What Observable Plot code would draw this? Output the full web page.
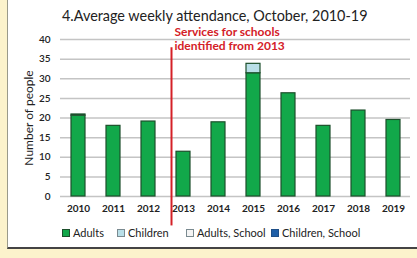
<!DOCTYPE html>
<html><head><meta charset="utf-8">
<script src="https://cdn.jsdelivr.net/npm/d3@7"></script>
<script src="https://cdn.jsdelivr.net/npm/@observablehq/plot@0.6"></script>
<style>
body{margin:0;padding:0;}
#page{position:relative;width:417px;height:258px;background:#fcf3cc;overflow:hidden;font-family:Lato,sans-serif;}
#panel{position:absolute;left:7px;top:-2px;width:420px;height:249px;background:#fff;border-left:1px solid #9a9a8a;border-bottom:2px solid #444;}
#title{position:absolute;left:62px;top:7px;font-size:14.4px;color:#222;white-space:nowrap;}
#chart{position:absolute;left:0;top:0;}
#legend{position:absolute;left:61px;top:226px;font-size:11px;color:#222;white-space:nowrap;}
#legend span.item{position:absolute;top:0;}
#legend i{display:inline-block;width:6px;height:6px;margin-right:3px;vertical-align:0px;border:1px solid #333;}
</style></head>
<body>
<div id="page"><div id="panel"></div>
<div id="title">4.Average weekly attendance, October, 2010-19</div>
<div id="chart"></div>
<div id="legend"></div>
</div>
<script>
const years = ["2010","2011","2012","2013","2014","2015","2016","2017","2018","2019"];
const adults = [20.6, 18.0, 19.1, 11.4, 18.9, 31.4, 26.3, 18.0, 21.9, 19.5];
const children = [0.3, 0, 0, 0, 0, 2.4, 0, 0, 0, 0];
const adultsSchool = [0, 0, 0, 0, 0, 0, 0, 0, 0, 0];
const childrenSchool = [0, 0, 0, 0, 0, 0, 0, 0, 0, 0];
const seriesNames = ["Adults", "Children", "Adults, School", "Children, School"];
const seriesColors = ["#12a84a", "#b9dfe8", "#f4f4f4", "#1f5fa8"];
const yTicks = [0, 5, 10, 15, 20, 25, 30, 35, 40];
const noteLines = ["Services for schools", "identified from 2013"];
const noteYear = "2013";
const noteTop = 37.9;

const allSeries = [adults, children, adultsSchool, childrenSchool];
const rows = [];
years.forEach((yr, i) => allSeries.forEach((s, j) => rows.push({year: yr, series: seriesNames[j], value: s[i]})));

const chart = Plot.plot({
  width: 417, height: 258,
  marginLeft: 60, marginRight: 7, marginTop: 39, marginBottom: 62,
  style: {fontFamily: "Lato, sans-serif", fontSize: "10px", color: "#222", background: "transparent"},
  x: {domain: years, paddingInner: 0.6, paddingOuter: 0.3, label: null, tickSize: 0, tickPadding: 8},
  y: {domain: [0, 40], ticks: yTicks, label: "Number of people", labelAnchor: "center", labelArrow: "none", tickSize: 0, tickPadding: 10, labelOffset: 36},
  color: {domain: seriesNames, range: seriesColors},
  marks: [
    Plot.gridY(yTicks, {stroke: "#c4c4c4", strokeOpacity: 1, strokeWidth: 1.5}),
    Plot.barY(rows.filter(d => d.value > 0), {x: "year", y: "value", fill: "series", stroke: "#1d4f2c", strokeWidth: 1.2, order: seriesNames}),
    Plot.ruleX([noteYear], {x: d => d, dx: -12, y1: -7.5, y2: noteTop, stroke: "#d42027", strokeWidth: 2}),
    Plot.text([noteLines.join("\n")], {x: () => noteYear, y: 40.3, dx: -9, text: d => d, textAnchor: "start", lineAnchor: "middle", lineHeight: 1.15, fill: "#d42027", fontWeight: "bold", fontSize: 12})
  ]
});
chart.querySelectorAll("[aria-label='x-axis tick label'] text").forEach(t => t.setAttribute("font-weight", "bold"));
chart.querySelectorAll("[aria-label='y-axis tick label'] text").forEach(t => t.setAttribute("font-weight", "600"));
const yl = chart.querySelector("[aria-label='y-axis label']");
if (yl) { yl.setAttribute("font-size", "12"); yl.setAttribute("fill", "#222"); }
document.getElementById("chart").appendChild(chart);

const legendX = [1, 56, 125, 210];
const legend = document.getElementById("legend");
seriesNames.forEach((n, i) => {
  const s = document.createElement("span");
  s.className = "item";
  s.style.left = legendX[i] + "px";
  const border = i === 0 ? "#1d4f2c" : (i === 3 ? "#1f4f88" : "#7a8a90");
  s.innerHTML = `<i style="background:${seriesColors[i]};border-color:${border}"></i>${n}`;
  legend.appendChild(s);
});
</script>
</body></html>
